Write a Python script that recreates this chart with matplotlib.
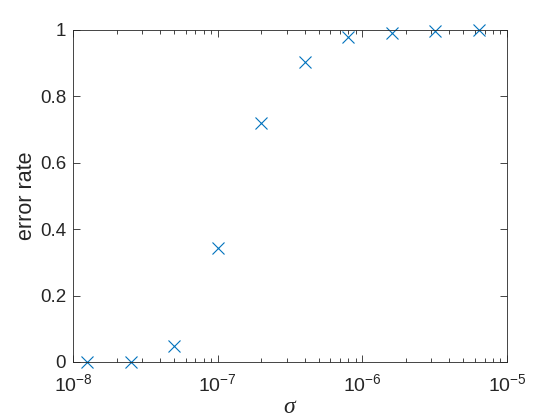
import matplotlib
matplotlib.use("Agg")
import matplotlib.pyplot as plt
import numpy as np

sigma = [1.25e-8, 2.5e-8, 5e-8, 1e-7, 2e-7, 4e-7, 8e-7, 1.6e-6, 3.2e-6, 6.4e-6]
error_rate = [0.0, 0.0, 0.049, 0.344, 0.719, 0.903, 0.980, 0.990, 0.997, 0.999]
xticks = [1e-8, 1e-7, 1e-6, 1e-5]
xticklabels = [r"$10^{-8}$", r"$10^{-7}$", r"$10^{-6}$", r"$10^{-5}$"]
yticks = [0, 0.2, 0.4, 0.6, 0.8, 1]
yticklabels = ["0", "0.2", "0.4", "0.6", "0.8", "1"]

plt.rcParams['font.family'] = ['Liberation Sans', 'DejaVu Sans']
plt.rcParams['mathtext.fontset'] = 'custom'
plt.rcParams['mathtext.rm'] = 'Liberation Sans'
plt.rcParams['mathtext.it'] = 'Liberation Serif:italic'
plt.rcParams['mathtext.default'] = 'regular'

fig = plt.figure(figsize=(5.6, 4.2), dpi=100)
ax = fig.add_axes([73/560, 58/420, (507-73)/560, (362-30)/420])

ax.plot(sigma, error_rate, linestyle='none', marker='x', color='#0072BD',
        markersize=9, markeredgewidth=0.8, clip_on=False)

ax.set_xscale('log')
ax.set_xlim(1e-8, 1e-5)
ax.set_ylim(0, 1)
ax.set_xticks(xticks)
ax.set_xticklabels(xticklabels, fontsize=14)
ax.set_yticks(yticks)
ax.set_yticklabels(yticklabels, fontsize=13.5)
ax.xaxis.set_minor_locator(matplotlib.ticker.LogLocator(base=10, subs=np.arange(2, 10)))
ax.xaxis.set_minor_formatter(matplotlib.ticker.NullFormatter())

ax.tick_params(which='both', direction='in', top=True, right=True,
               colors='#262626', width=0.6)
ax.tick_params(axis='x', which='major', length=5, pad=8)
ax.tick_params(axis='y', which='major', length=5, pad=5)
ax.tick_params(which='minor', length=3)
for s in ax.spines.values():
    s.set_linewidth(0.6)
    s.set_color('#262626')

ax.set_xlabel(r"$\mathit{\sigma}$", fontsize=17, color='#262626', labelpad=1)
ax.set_ylabel("error rate", fontsize=15.5, color='#262626', labelpad=2)

fig.savefig("out.png", dpi=100)
